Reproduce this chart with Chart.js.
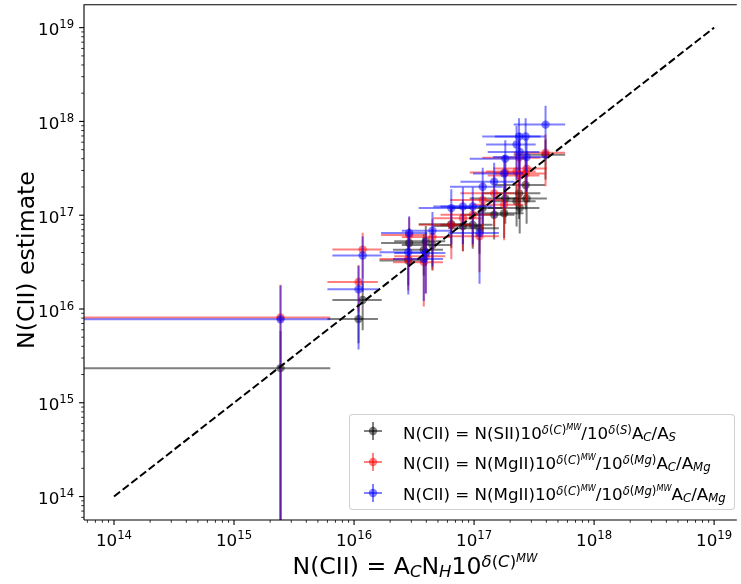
<!DOCTYPE html>
<html>
<head>
<meta charset="utf-8">
<script src="https://cdn.jsdelivr.net/npm/chart.js@4"></script>
<style>
  body { margin: 0; background: #fff; }
  #wrap { position: relative; width: 741px; height: 584px; overflow: hidden; font-family: "DejaVu Sans", sans-serif; color: #000; }
  #wrap canvas { position: absolute; left: 0; top: 0; }
  .math { position: absolute; white-space: nowrap; }
  .math sup { font-size: 0.7em; vertical-align: 0.42em; line-height: 0; }
  .math sub { font-size: 0.7em; vertical-align: -0.2em; line-height: 0; }
  .math sup sup { font-size: 0.7em; vertical-align: 0.45em; }
  .ytitle { left: -233.8px; top: 245px; width: 520px; height: 30px; line-height: 30px; font-size: 23.6px; text-align: center; transform: rotate(-90deg); }
  .xtitle { left: 115px; top: 550.8px; width: 600px; height: 30px; line-height: 30px; font-size: 23.6px; text-align: center; }
  .legend-box { position: absolute; left: 349px; top: 414px; width: 384px; height: 94px; border: 1px solid rgba(204, 204, 204, 0.9); border-radius: 4px; background: rgba(255, 255, 255, 0.8); }
  .leg-row { font-size: 16.7px; line-height: 20px; left: 403px; }
  .leg-mark { position: absolute; left: 362px; width: 22px; height: 22px; }
</style>
</head>
<body>
<div id="wrap">
  <canvas id="chart"></canvas>

  <!-- axis titles -->
  <div class="math ytitle">N(CII) estimate</div>
  <div class="math xtitle">N(CII) = A<sub><i>C</i></sub>N<sub><i>H</i></sub>10<sup><i>δ</i>(<i>C</i>)<sup><i>MW</i></sup></sup></div>

  <!-- legend -->
  <div class="legend-box"></div>
  <svg class="leg-mark" style="top:420px" viewBox="-11 -11 22 22">
    <g stroke="rgba(0,0,0,0.5)" stroke-width="2"><line x1="-9" y1="0" x2="9" y2="0"/><line x1="0" y1="-9" x2="0" y2="9"/></g>
    <circle r="4.2" fill="rgba(0,0,0,0.5)"/>
  </svg>
  <svg class="leg-mark" style="top:451px" viewBox="-11 -11 22 22">
    <g stroke="rgba(255,0,0,0.5)" stroke-width="2"><line x1="-9" y1="0" x2="9" y2="0"/><line x1="0" y1="-9" x2="0" y2="9"/></g>
    <circle r="4.2" fill="rgba(255,0,0,0.5)"/>
  </svg>
  <svg class="leg-mark" style="top:482px" viewBox="-11 -11 22 22">
    <g stroke="rgba(0,0,255,0.5)" stroke-width="2"><line x1="-9" y1="0" x2="9" y2="0"/><line x1="0" y1="-9" x2="0" y2="9"/></g>
    <circle r="4.2" fill="rgba(0,0,255,0.5)"/>
  </svg>
  <div class="math leg-row" style="top:422.5px">N(CII) = N(SII)10<sup><i>δ</i>(<i>C</i>)<sup><i>MW</i></sup></sup>/10<sup><i>δ</i>(<i>S</i>)</sup>A<sub><i>C</i></sub>/A<sub><i>S</i></sub></div>
  <div class="math leg-row" style="top:453.3px">N(CII) = N(MgII)10<sup><i>δ</i>(<i>C</i>)<sup><i>MW</i></sup></sup>/10<sup><i>δ</i>(<i>Mg</i>)</sup>A<sub><i>C</i></sub>/A<sub><i>Mg</i></sub></div>
  <div class="math leg-row" style="top:484.1px">N(CII) = N(MgII)10<sup><i>δ</i>(<i>C</i>)<sup><i>MW</i></sup></sup>/10<sup><i>δ</i>(<i>Mg</i>)<sup><i>MW</i></sup></sup>A<sub><i>C</i></sub>/A<sub><i>Mg</i></sub></div>
</div>

<script>
// x: N(CII) = A_C N_H 10^delta(C)^MW, one entry per sightline
const nciiX = [2.44e15, 1.09e16, 1.18e16, 2.88e16, 2.83e16, 3.96e16, 3.81e16, 4.50e16, 6.46e16, 8.07e16, 9.75e16,
  1.11e17, 1.18e17, 1.47e17, 1.78e17, 1.82e17, 2.37e17, 2.26e17, 2.40e17, 2.69e17, 2.74e17, 3.94e17];
const nciiXErr = [3.9e15, 0.49e16, 0.52e16, 1.2e16, 1.2e16, 1.8e16, 1.7e16, 2.0e16, 3.0e16, 3.5e16, 4.5e16,
  5.0e16, 5.5e16, 7.0e16, 8.0e16, 9.0e16, 1.2e17, 1.0e17, 1.1e17, 1.2e17, 1.3e17, 1.8e17];

// estimate from SII
const estS = [2.34e15, 7.80e15, 1.245e16, 5.06e16, 3.28e16, 5.27e16, 4.27e16, 4.82e16, 8.03e16, 7.66e16, 7.89e16,
  7.28e16, 1.19e17, 1.01e17, 1.05e17, 1.51e17, 1.71e17, 1.41e17, 1.19e17, 2.10e17, 1.51e17, 4.40e17];
const estSErr = [3.5e15, 0.35e16, 0.65e16, 2.2e16, 1.5e16, 2.4e16, 2.0e16, 2.2e16, 3.6e16, 3.5e16, 3.5e16,
  3.4e16, 5.5e16, 4.6e16, 4.8e16, 7.0e16, 8.0e16, 6.5e16, 5.5e16, 9.5e16, 7.0e16, 2.0e17];

// estimate from MgII, delta(Mg)
const estMg = [8.13e15, 1.94e16, 4.30e16, 6.14e16, 3.42e16, 3.66e16, 3.16e16, 5.85e16, 7.89e16, 9.29e16, 1.01e17,
  5.96e16, 1.45e17, 1.71e17, 1.29e17, 2.85e17, 4.11e17, 2.93e17, 2.65e17, 2.78e17, 3.14e17, 4.64e17];
const estMgErr = [1.0e16, 1.0e16, 2.2e16, 3.3e16, 1.85e16, 2.2e16, 2.1e16, 3.3e16, 4.5e16, 5.2e16, 5.5e16,
  3.5e16, 8.0e16, 9.5e16, 7.5e16, 1.5e17, 2.2e17, 1.6e17, 1.45e17, 1.5e17, 1.7e17, 2.6e17];

// estimate from MgII, delta(Mg)^MW
const estMgMW = [7.75e15, 1.62e16, 3.72e16, 6.46e16, 4.03e16, 3.96e16, 3.42e16, 6.83e16, 1.19e17, 1.24e17, 1.24e17,
  6.46e16, 2.01e17, 2.28e17, 2.78e17, 4.01e17, 6.90e17, 5.68e17, 4.72e17, 6.90e17, 4.18e17, 9.25e17];
const estMgMWErr = [1.0e16, 1.25e16, 2.2e16, 3.3e16, 2.6e16, 2.5e16, 2.2e16, 4.0e16, 7.0e16, 7.5e16, 7.5e16,
  4.6e16, 1.2e17, 1.35e17, 1.6e17, 2.3e17, 3.9e17, 3.3e17, 2.8e17, 3.9e17, 2.4e17, 5.4e17];

const oneToOne = [1e14, 1e19];
const tickExps = [14, 15, 16, 17, 18, 19];
const minorSubs = [2, 3, 4, 5, 6, 7, 8, 9];

const toPoints = (ys) => nciiX.map((x, i) => ({ x, y: ys[i] }));

// matplotlib-like error bars, drawn right before each series' markers
const errorBars = {
  id: "errorBars",
  beforeDatasetDraw(chart, args) {
    const ds = chart.data.datasets[args.index];
    if (!ds.yErr) return;
    const { ctx, chartArea: a } = chart;
    const sx = chart.scales.x, sy = chart.scales.y;
    ctx.save();
    ctx.beginPath();
    ctx.rect(a.left, a.top, a.right - a.left, a.bottom - a.top);
    ctx.clip();
    ctx.strokeStyle = ds.backgroundColor;
    ctx.lineWidth = 2;
    ds.data.forEach((p, i) => {
      const px = sx.getPixelForValue(p.x);
      const py = sy.getPixelForValue(p.y);
      const xLo = p.x - nciiXErr[i] > 0 ? sx.getPixelForValue(p.x - nciiXErr[i]) : a.left - 10;
      const xHi = sx.getPixelForValue(p.x + nciiXErr[i]);
      const yLo = p.y - ds.yErr[i] > 0 ? sy.getPixelForValue(p.y - ds.yErr[i]) : a.bottom + 10;
      const yHi = sy.getPixelForValue(p.y + ds.yErr[i]);
      ctx.beginPath(); ctx.moveTo(xLo, py); ctx.lineTo(xHi, py); ctx.stroke();
      ctx.beginPath(); ctx.moveTo(px, yLo); ctx.lineTo(px, yHi); ctx.stroke();
    });
    ctx.restore();
  }
};

// spines, log ticks and 10^n labels
const axisDecor = {
  id: "axisDecor",
  afterDraw(chart) {
    const { ctx, chartArea: a } = chart;
    const sx = chart.scales.x, sy = chart.scales.y;
    ctx.save();
    ctx.strokeStyle = "#000";
    ctx.lineWidth = 1.1;
    ctx.beginPath();
    ctx.moveTo(a.left, a.top); ctx.lineTo(a.left, a.bottom);
    ctx.moveTo(a.left, a.bottom); ctx.lineTo(a.right, a.bottom);
    ctx.moveTo(a.left, a.top + 0.5); ctx.lineTo(a.right, a.top + 0.5);
    ctx.stroke();

    const exps = [tickExps[0] - 1, ...tickExps];
    exps.forEach((e) => {
      [1, ...minorSubs].forEach((k) => {
        const v = k * Math.pow(10, e);
        const major = k === 1;
        ctx.lineWidth = major ? 1.1 : 0.8;
        const len = major ? 4.9 : 2.8;
        if (v >= sx.min && v <= sx.max) {
          const px = sx.getPixelForValue(v);
          ctx.beginPath(); ctx.moveTo(px, a.bottom); ctx.lineTo(px, a.bottom + len); ctx.stroke();
        }
        if (v >= sy.min && v <= sy.max) {
          const py = sy.getPixelForValue(v);
          ctx.beginPath(); ctx.moveTo(a.left, py); ctx.lineTo(a.left - len, py); ctx.stroke();
        }
      });
    });

    ctx.fillStyle = "#000";
    ctx.textBaseline = "alphabetic";
    ctx.textAlign = "left";
    const mainFont = '16.7px "DejaVu Sans"';
    const supFont = '11.7px "DejaVu Sans"';
    tickExps.forEach((e) => {
      ctx.font = mainFont;
      const w1 = ctx.measureText("10").width;
      ctx.font = supFont;
      const w2 = ctx.measureText(String(e)).width;

      const px = sx.getPixelForValue(Math.pow(10, e));
      const x0 = px - (w1 + w2) / 2;
      ctx.font = mainFont; ctx.fillText("10", x0, 546);
      ctx.font = supFont; ctx.fillText(String(e), x0 + w1, 539);

      const py = sy.getPixelForValue(Math.pow(10, e));
      const y0 = a.left - 9.8 - (w1 + w2);
      ctx.font = mainFont; ctx.fillText("10", y0, py + 7.6);
      ctx.font = supFont; ctx.fillText(String(e), y0 + w1, py + 0.6);
    });
    ctx.restore();
  }
};

new Chart(document.getElementById("chart"), {
  type: "scatter",
  data: {
    datasets: [
      {
        type: "line",
        data: oneToOne.map((v) => ({ x: v, y: v })),
        borderColor: "#000",
        borderWidth: 2,
        borderDash: [7.7, 3.3],
        pointRadius: 0,
        order: 0
      },
      {
        label: "MgII, MW",
        data: toPoints(estMgMW),
        yErr: estMgMWErr,
        backgroundColor: "rgba(0,0,255,0.5)",
        borderWidth: 0,
        pointRadius: 4.2,
        order: 1
      },
      {
        label: "MgII",
        data: toPoints(estMg),
        yErr: estMgErr,
        backgroundColor: "rgba(255,0,0,0.5)",
        borderWidth: 0,
        pointRadius: 4.2,
        order: 2
      },
      {
        label: "SII",
        data: toPoints(estS),
        yErr: estSErr,
        backgroundColor: "rgba(0,0,0,0.5)",
        borderWidth: 0,
        pointRadius: 4.2,
        order: 3
      }
    ]
  },
  options: {
    responsive: true,
    maintainAspectRatio: false,
    animation: false,
    layout: { padding: 0 },
    plugins: { legend: { display: false }, tooltip: { enabled: false } },
    scales: {
      x: {
        type: "logarithmic",
        min: Math.pow(10, 13.75),
        max: Math.pow(10, 19.189),
        ticks: { display: false },
        grid: { display: false },
        border: { display: false },
        afterFit: (s) => { s.height = 64; }
      },
      y: {
        type: "logarithmic",
        min: Math.pow(10, 13.75),
        max: Math.pow(10, 19.25),
        ticks: { display: false },
        grid: { display: false },
        border: { display: false },
        afterFit: (s) => { s.width = 84; }
      }
    }
  },
  plugins: [errorBars, axisDecor]
});
</script>
</body>
</html>
